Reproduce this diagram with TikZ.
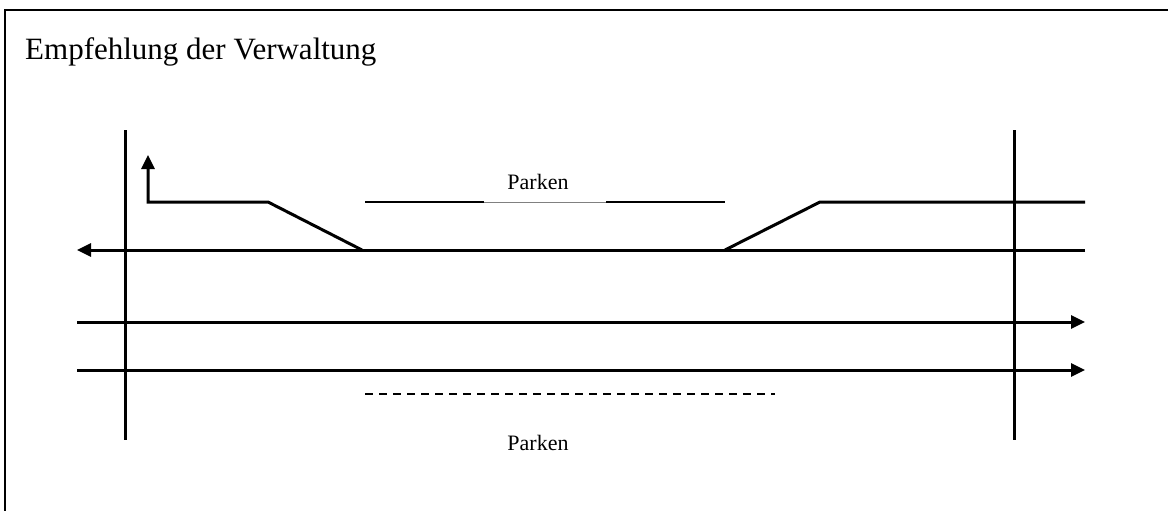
\documentclass[tikz,border=0pt]{standalone}
\usepackage{fontspec}
\setmainfont{Liberation Serif}
\usetikzlibrary{arrows.meta}
\begin{document}
\begin{tikzpicture}[x=1pt,y=-1pt,
  lane/.style={line width=3pt},
  thinlane/.style={line width=1pt},
  tip/.style={-{Triangle[length=14pt,width=13pt]}},
  frameline/.style={line width=2pt},
  label/.style={font=\fontsize{22}{26}\selectfont, inner sep=0pt, anchor=base},
  title/.style={font=\fontsize{31}{36}\selectfont, inner sep=0pt, anchor=base west}]
\useasboundingbox (0,0) rectangle (1168,511);
\fill[white] (0,0) rectangle (1168,511);
% outer frame (open to the right and bottom)
\draw[frameline] (1168,10) -- (5,10) -- (5,511);
\node[title] (title) at (25,60) {Empfehlung der Verwaltung};
% cross streets
\coordinate (vl1) at (125,130); \coordinate (vl2) at (125,440);
\coordinate (vr1) at (1014,130); \coordinate (vr2) at (1014,440);
\draw[lane] (vl1) -- (vl2);
\draw[lane] (vr1) -- (vr2);
% upper lane towards the left with parking bay
\coordinate (la1) at (1085,250); \coordinate (la2) at (77,250);
\draw[lane,tip] (la1) -- (la2);
\coordinate (up0) at (148,155); \coordinate (up1) at (148,202);
\coordinate (up2) at (268,202); \coordinate (up3) at (362,250);
\draw[lane,tip] (up3) -- (up2) -- (up1) -- (up0);
\coordinate (rp1) at (725,250); \coordinate (rp2) at (820,202);
\coordinate (rp3) at (1085,202);
\draw[lane] (rp1) -- (rp2) -- (rp3);
% parking bay edge
\coordinate (pa) at (365,202); \coordinate (pb) at (484,202);
\coordinate (pc) at (606,202); \coordinate (pd) at (725,202);
\draw[line width=2pt] (pa) -- (pb);
\draw[thinlane,gray] (pb) -- (pc);
\draw[line width=2pt] (pc) -- (pd);
\node[label] (parktop) at (538,189) {Parken};
% lanes towards the right
\coordinate (ra1) at (77,322); \coordinate (ra2) at (1085,322);
\coordinate (rb1) at (77,370); \coordinate (rb2) at (1085,370);
\draw[lane,tip] (ra1) -- (ra2);
\draw[lane,tip] (rb1) -- (rb2);
% parking strip
\coordinate (da) at (365,394); \coordinate (db) at (775,394);
\draw[line width=1.5pt,dash pattern=on 8pt off 6pt] (da) -- (db);
\node[label] (parkbot) at (538,450) {Parken};
\end{tikzpicture}
\end{document}
